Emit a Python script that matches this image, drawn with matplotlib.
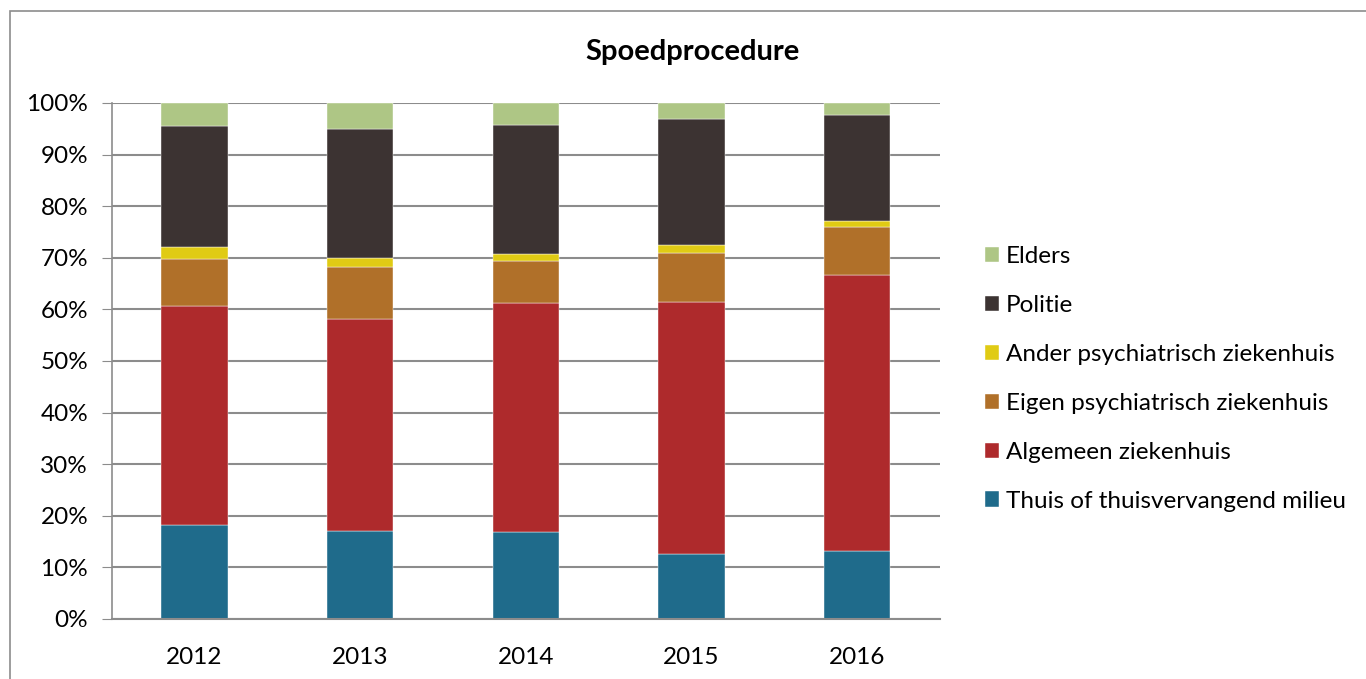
import matplotlib
matplotlib.use('Agg')
import matplotlib.pyplot as plt
import numpy as np

years = ['2012', '2013', '2014', '2015', '2016']

# shares in percent, bottom to top
thuis = [18.2, 17.0, 16.8, 12.5, 13.2]
algemeen = [42.5, 41.1, 44.4, 48.9, 53.5]
eigen = [9.1, 10.2, 8.2, 9.5, 9.3]
ander = [2.3, 1.7, 1.3, 1.6, 1.2]
politie = [23.4, 25.0, 25.0, 24.3, 20.5]
elders = [4.5, 5.0, 4.3, 3.2, 2.3]

series = [thuis, algemeen, eigen, ander, politie, elders]
labels = ['Thuis of thuisvervangend milieu', 'Algemeen ziekenhuis',
          'Eigen psychiatrisch ziekenhuis', 'Ander psychiatrisch ziekenhuis',
          'Politie', 'Elders']
colors = ['#1f6b8b', '#ae2a2c', '#b07029', '#e0cb14', '#3c3332', '#aec685']

plt.rcParams['font.family'] = ['Lato', 'DejaVu Sans']

fig = plt.figure(figsize=(13.66, 6.79), dpi=100)
ax = fig.add_axes([0.0818, 0.0884, 0.6064, 0.760])

# outer chart border
fig.add_artist(plt.Rectangle((10 / 1366, -0.01), 1.5, (679 - 11) / 679 + 0.01,
                             transform=fig.transFigure, fill=False,
                             edgecolor='#8c8c8c', linewidth=1.2))

x = np.arange(len(years))
bottom = np.zeros(len(years))
bars = []
for vals, lab, col in zip(series, labels, colors):
    b = ax.bar(x, vals, 0.4, bottom=bottom, color=col, label=lab,
               edgecolor='white', linewidth=0.3)
    bars.append(b)
    bottom += np.array(vals)

ax.set_xlim(-0.5, len(years) - 0.5)
ax.set_ylim(0, 100)
ax.set_yticks(np.arange(0, 101, 10))
ax.set_yticklabels(['%d%%' % v for v in range(0, 101, 10)])
ax.set_xticks(x)
ax.set_xticklabels(years)
ax.tick_params(axis='y', labelsize=17.5, length=7, color='#8c8c8c', pad=10)
ax.tick_params(axis='x', labelsize=17.5, length=0, pad=20)

ax.grid(axis='y', color='#8c8c8c', linewidth=1.5)
ax.set_axisbelow(True)
for s in ['top', 'right']:
    ax.spines[s].set_visible(False)
ax.spines['left'].set_color('#8c8c8c')
ax.spines['bottom'].set_color('#8c8c8c')
ax.spines['left'].set_linewidth(1.2)
ax.spines['bottom'].set_linewidth(1.5)

fig.text(0.507, 0.923, 'Spoedprocedure', ha='center', va='center',
         fontsize=21, fontweight='bold')

handles = bars[::-1]
fig.legend(handles, labels[::-1], loc='center left',
           bbox_to_anchor=(0.705, 0.442), frameon=False, fontsize=17.5,
           handlelength=0.6, handleheight=0.6, handletextpad=0.25,
           labelspacing=1.15)

plt.savefig('out.png', dpi=100)
